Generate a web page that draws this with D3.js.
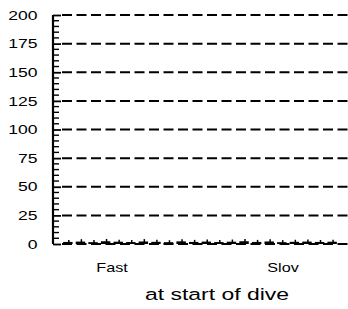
<!DOCTYPE html>
<html>
<head>
<meta charset="utf-8">
<script src="https://cdn.jsdelivr.net/npm/d3@7"></script>
<style>
  body { margin: 0; background: #fff; }
  svg { font-family: "Liberation Sans", Arial, sans-serif; }
</style>
</head>
<body>
<svg id="chart" width="348" height="309"></svg>
<script>
const groups = ['Fast', 'Slov'];
const yTicks = [0, 25, 50, 75, 100, 125, 150, 175, 200];
// small values near zero, one per sample, first half Fast, second half Slov
const boxVals = [1.8, 2.1, 1.6, 2.4, 2.0, 1.7, 2.2, 1.9, 1.6, 2.3, 1.8,
                 2.1, 1.7, 2.0, 2.4, 1.8, 2.2, 1.6, 1.9, 2.1, 1.8, 2.0];
const whiskVals = [3.6, 4.2, 3.4, 4.4, 3.8, 3.5, 4.3, 3.7, 3.3, 4.2, 3.6,
                   4.0, 3.4, 3.9, 4.4, 3.6, 4.1, 3.4, 3.7, 4.0, 3.5, 3.8];

const stretch = 1.35;
const svg = d3.select('#chart');
const axisX = 53;
const y = d3.scaleLinear().domain([0, 200]).range([244, 15]);
const x = d3.scaleBand().domain(d3.range(boxVals.length)).range([60, 340]).padding(0.25);
const xg = d3.scalePoint().domain(groups).range([112, 283]);

// dashed grid
svg.append('g')
  .selectAll('line')
  .data(yTicks)
  .enter()
  .append('line')
  .attr('x1', 62)
  .attr('x2', 348)
  .attr('y1', d => y(d))
  .attr('y2', d => y(d))
  .attr('stroke', '#000')
  .attr('stroke-width', 2)
  .attr('stroke-dasharray', '10,4.5');

// y axis with major ticks both sides
const yAxis = d3.axisLeft(y).tickValues(yTicks).tickSize(9).tickPadding(5);
const ya = svg.append('g')
  .attr('transform', `translate(${axisX},0)`)
  .call(yAxis);
ya.select('.domain').remove();
ya.selectAll('.tick line').attr('x2', 8).attr('stroke-width', 1.8);
ya.selectAll('.tick text')
  .style('font-size', '13px')
  .attr('fill', '#000')
  .attr('x', -15.5 / stretch)
  .attr('transform', `scale(${stretch},1)`);

svg.append('line')
  .attr('x1', axisX).attr('x2', axisX)
  .attr('y1', y(200)).attr('y2', y(0))
  .attr('stroke', '#000').attr('stroke-width', 2.2);

// minor ticks
svg.append('g')
  .selectAll('line')
  .data(d3.range(0, 201, 5).filter(v => v % 25 !== 0))
  .enter()
  .append('line')
  .attr('x1', axisX)
  .attr('x2', axisX + 6)
  .attr('y1', d => y(d))
  .attr('y2', d => y(d))
  .attr('stroke', '#000')
  .attr('stroke-width', 1.4);

// tiny boxes near zero
const marks = svg.append('g')
  .selectAll('g')
  .data(boxVals)
  .enter()
  .append('g');
marks.append('rect')
  .attr('x', (d, i) => x(i))
  .attr('y', d => y(d))
  .attr('width', x.bandwidth())
  .attr('height', d => y(0) - y(d))
  .attr('fill', '#000');
marks.append('line')
  .attr('x1', (d, i) => x(i) + x.bandwidth() * 0.6)
  .attr('x2', (d, i) => x(i) + x.bandwidth() * 0.6)
  .attr('y1', y(0))
  .attr('y2', (d, i) => y(whiskVals[i]))
  .attr('stroke', '#000')
  .attr('stroke-width', 1.5);

// group labels
svg.append('g')
  .selectAll('text')
  .data(groups)
  .enter()
  .append('text')
  .attr('transform', d => `translate(${xg(d)},272) scale(${stretch},1)`)
  .attr('text-anchor', 'middle')
  .style('font-size', '12px')
  .text(d => d);

svg.append('text')
  .attr('transform', `translate(217,300) scale(${stretch},1)`)
  .attr('text-anchor', 'middle')
  .style('font-size', '17px')
  .text('at start of dive');
</script>
</body>
</html>
